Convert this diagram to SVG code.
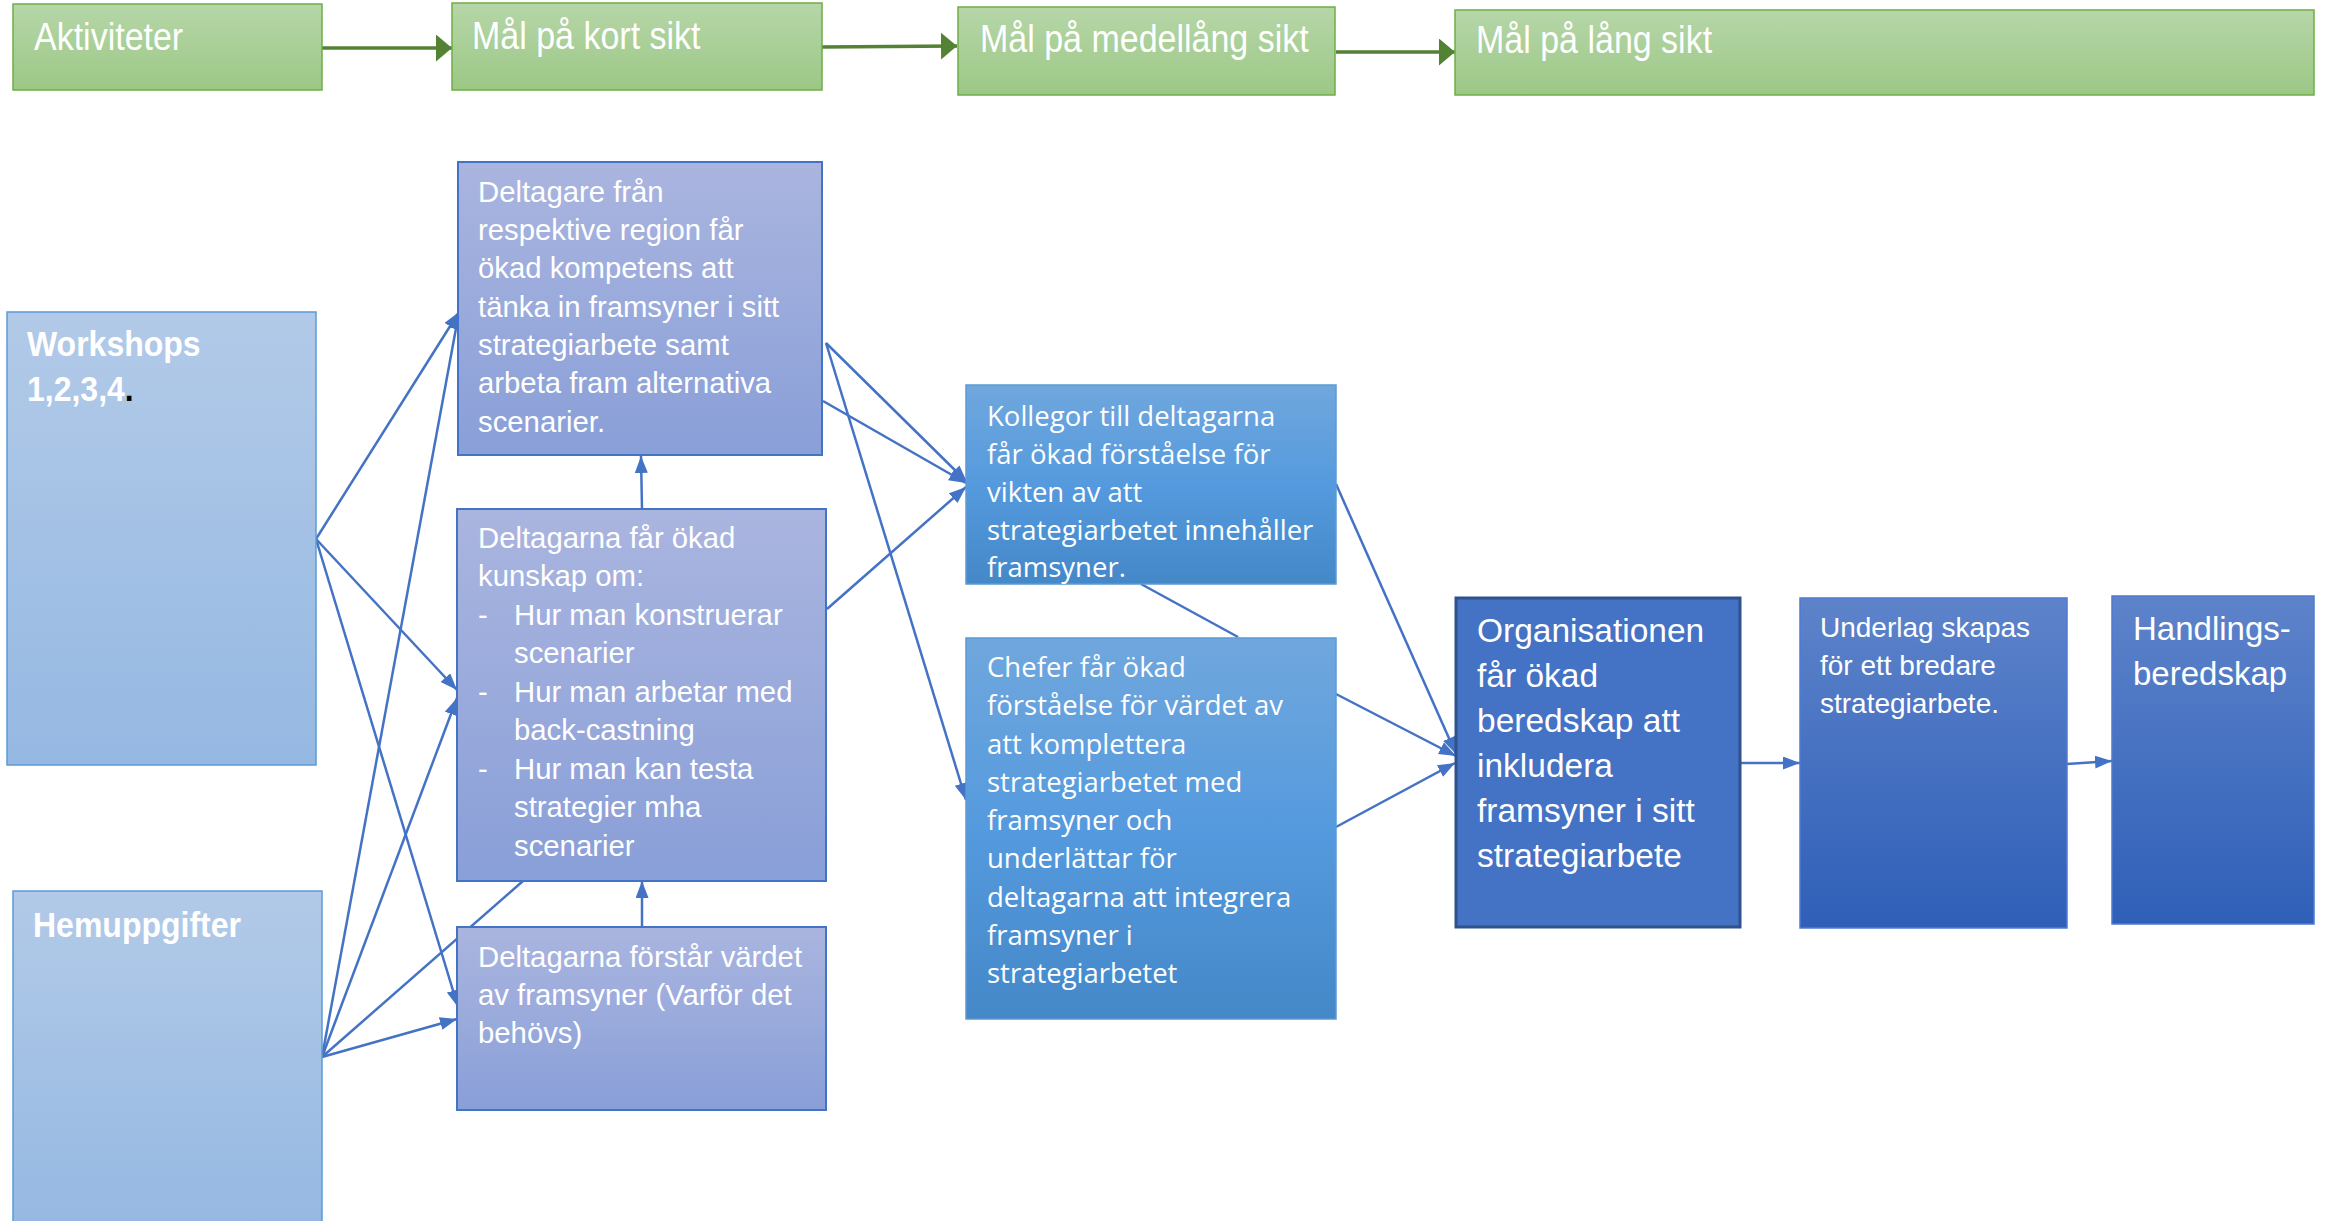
<svg xmlns="http://www.w3.org/2000/svg" width="2326" height="1221" viewBox="0 0 2326 1221">
<style>
.t{font-family:"Liberation Sans",Arial,sans-serif;fill:#ffffff;}
.top{font-size:34px;}
.pb{font-size:29.3px;}
.os{font-family:"Open Sans","Liberation Sans",sans-serif;font-size:27.5px;fill:#ffffff;}
.bold{font-weight:bold;font-size:32px;}
.c{fill:none;stroke:#4472c4;stroke-width:2.5;}
.ca{fill:none;stroke:#4472c4;stroke-width:2.5;marker-end:url(#ab);}
.ga{fill:none;stroke:#548235;stroke-width:3.5;marker-end:url(#ag);}
</style>
<defs>
<linearGradient id="gGreen" x1="0" y1="0" x2="0" y2="1"><stop offset="0" stop-color="#b6d6a8"/><stop offset="1" stop-color="#9cc886"/></linearGradient>
<linearGradient id="gLight" x1="0" y1="0" x2="0" y2="1"><stop offset="0" stop-color="#b2cae8"/><stop offset="1" stop-color="#95b8e2"/></linearGradient>
<linearGradient id="gPurple" x1="0" y1="0" x2="0" y2="1"><stop offset="0" stop-color="#aab5df"/><stop offset="1" stop-color="#899fd8"/></linearGradient>
<linearGradient id="gMid" x1="0" y1="0" x2="0" y2="1"><stop offset="0" stop-color="#70a7dd"/><stop offset="0.5" stop-color="#559ade"/><stop offset="1" stop-color="#4488c8"/></linearGradient>
<linearGradient id="gDark" x1="0" y1="0" x2="0" y2="1"><stop offset="0" stop-color="#5d83ca"/><stop offset="1" stop-color="#2f5fb8"/></linearGradient>
<marker id="ab" markerUnits="userSpaceOnUse" markerWidth="18" markerHeight="14" refX="17" refY="6.5" orient="auto"><path d="M0,0 L17,6.5 L0,13 z" fill="#4472c4"/></marker>
<marker id="ag" markerUnits="userSpaceOnUse" markerWidth="18" markerHeight="28" refX="16" refY="13.5" orient="auto"><path d="M0,0 L16,13.5 L0,27 z" fill="#548235"/></marker>
</defs>
<rect width="2326" height="1221" fill="#ffffff"/>

<g id="connectors">
<line class="ga" x1="322" y1="48" x2="452" y2="48"/>
<line class="ga" x1="822" y1="47" x2="957" y2="46"/>
<line class="ga" x1="1336" y1="52" x2="1455" y2="52"/>
<line class="ca" x1="316" y1="539" x2="459" y2="312"/>
<line class="ca" x1="316" y1="539" x2="457" y2="690"/>
<line class="ca" x1="316" y1="539" x2="458" y2="1007"/>
<line class="ca" x1="322" y1="1057" x2="459" y2="312"/>
<line class="ca" x1="322" y1="1057" x2="457" y2="698"/>
<line class="c" x1="322" y1="1057" x2="523" y2="881"/>
<line class="ca" x1="322" y1="1057" x2="457" y2="1019"/>
<line class="ca" x1="642" y1="927" x2="642" y2="881"/>
<line class="ca" x1="642" y1="509" x2="641" y2="456"/>
<line class="ca" x1="826" y1="343" x2="967" y2="482"/>
<line class="ca" x1="823" y1="401" x2="966" y2="483"/>
<line class="ca" x1="826" y1="343" x2="966" y2="800"/>
<line class="ca" x1="827" y1="609" x2="966" y2="487"/>
<line class="c" x1="1141" y1="584" x2="1238" y2="637"/>
<line class="ca" x1="1336" y1="484" x2="1456" y2="754"/>
<line class="ca" x1="1336" y1="694" x2="1456" y2="756"/>
<line class="ca" x1="1336" y1="827" x2="1455" y2="763"/>
<line class="ca" x1="1741" y1="763" x2="1800" y2="763"/>
<line class="ca" x1="2067" y1="764" x2="2112" y2="761"/>
</g>

<g id="aktiviteter">
<rect x="13" y="4" width="309" height="86" fill="url(#gGreen)" stroke="#70ad47" stroke-width="1.5"/>
<text class="t top" transform="translate(34,50) scale(1,1.12)">Aktiviteter</text>
</g>
<g id="mal-kort">
<rect x="452" y="3" width="370" height="87" fill="url(#gGreen)" stroke="#70ad47" stroke-width="1.5"/>
<text class="t top" transform="translate(472,49) scale(1,1.12)">Mål på kort sikt</text>
</g>
<g id="mal-medel">
<rect x="958" y="7" width="377" height="88" fill="url(#gGreen)" stroke="#70ad47" stroke-width="1.5"/>
<text class="t top" transform="translate(980,52) scale(1,1.12)">Mål på medellång sikt</text>
</g>
<g id="mal-lang">
<rect x="1455" y="10" width="859" height="85" fill="url(#gGreen)" stroke="#70ad47" stroke-width="1.5"/>
<text class="t top" transform="translate(1476,53) scale(1,1.12)">Mål på lång sikt</text>
</g>

<g id="workshops">
<rect x="7" y="312" width="309" height="453" fill="url(#gLight)" stroke="#5b9bd5" stroke-width="1.5"/>
<text class="t bold" transform="translate(27,356) scale(1,1.08)">Workshops</text>
<text class="t bold" transform="translate(27,401) scale(1,1.08)">1,2,3,4<tspan fill="#000000">.</tspan></text>
</g>
<g id="hemuppgifter">
<rect x="13" y="891" width="309" height="340" fill="url(#gLight)" stroke="#5b9bd5" stroke-width="1.5"/>
<text class="t bold" transform="translate(33,937) scale(1,1.08)">Hemuppgifter</text>
</g>

<g id="deltagare-fran">
<rect x="458" y="162" width="364" height="293" fill="url(#gPurple)" stroke="#4472c4" stroke-width="2"/>
<text class="t pb" x="478" y="202">Deltagare från</text>
<text class="t pb" x="478" y="240">respektive region får</text>
<text class="t pb" x="478" y="278">ökad kompetens att</text>
<text class="t pb" x="478" y="317">tänka in framsyner i sitt</text>
<text class="t pb" x="478" y="355">strategiarbete samt</text>
<text class="t pb" x="478" y="393">arbeta fram alternativa</text>
<text class="t pb" x="478" y="432">scenarier.</text>
</g>
<g id="deltagarna-kunskap">
<rect x="457" y="509" width="369" height="372" fill="url(#gPurple)" stroke="#4472c4" stroke-width="2"/>
<text class="t pb" x="478" y="548">Deltagarna får ökad</text>
<text class="t pb" x="478" y="586">kunskap om:</text>
<text class="t pb" x="478" y="625">-</text>
<text class="t pb" x="514" y="625">Hur man konstruerar</text>
<text class="t pb" x="514" y="663">scenarier</text>
<text class="t pb" x="478" y="702">-</text>
<text class="t pb" x="514" y="702">Hur man arbetar med</text>
<text class="t pb" x="514" y="740">back-castning</text>
<text class="t pb" x="478" y="779">-</text>
<text class="t pb" x="514" y="779">Hur man kan testa</text>
<text class="t pb" x="514" y="817">strategier mha</text>
<text class="t pb" x="514" y="856">scenarier</text>
</g>
<g id="deltagarna-forstar">
<rect x="457" y="927" width="369" height="183" fill="url(#gPurple)" stroke="#4472c4" stroke-width="2"/>
<text class="t pb" x="478" y="967">Deltagarna förstår värdet</text>
<text class="t pb" x="478" y="1005">av framsyner (Varför det</text>
<text class="t pb" x="478" y="1043">behövs)</text>
</g>

<g id="kollegor">
<rect x="966" y="385" width="370" height="199" fill="url(#gMid)" stroke="#5b9bd5" stroke-width="1.5"/>
<text class="os" x="987" y="426">Kollegor till deltagarna</text>
<text class="os" x="987" y="464">får ökad förståelse för</text>
<text class="os" x="987" y="502">vikten av att</text>
<text class="os" x="987" y="540">strategiarbetet innehåller</text>
<text class="os" x="987" y="577">framsyner.</text>
</g>
<g id="chefer">
<rect x="966" y="638" width="370" height="381" fill="url(#gMid)" stroke="#5b9bd5" stroke-width="1.5"/>
<text class="os" x="987" y="677">Chefer får ökad</text>
<text class="os" x="987" y="715">förståelse för värdet av</text>
<text class="os" x="987" y="754">att komplettera</text>
<text class="os" x="987" y="792">strategiarbetet med</text>
<text class="os" x="987" y="830">framsyner och</text>
<text class="os" x="987" y="868">underlättar för</text>
<text class="os" x="987" y="907">deltagarna att integrera</text>
<text class="os" x="987" y="945">framsyner i</text>
<text class="os" x="987" y="983">strategiarbetet</text>
</g>

<g id="organisationen">
<rect x="1456" y="598" width="284" height="329" fill="#4472c4" stroke="#2f528f" stroke-width="3"/>
<text class="t" font-size="33.5" x="1477" y="642">Organisationen</text>
<text class="t" font-size="33.5" x="1477" y="687">får ökad</text>
<text class="t" font-size="33.5" x="1477" y="732">beredskap att</text>
<text class="t" font-size="33.5" x="1477" y="777">inkludera</text>
<text class="t" font-size="33.5" x="1477" y="822">framsyner i sitt</text>
<text class="t" font-size="33.5" x="1477" y="867">strategiarbete</text>
</g>
<g id="underlag">
<rect x="1800" y="598" width="267" height="330" fill="url(#gDark)" stroke="#4f7bd0" stroke-width="1.5"/>
<text class="t" font-size="28" x="1820" y="637">Underlag skapas</text>
<text class="t" font-size="28" x="1820" y="675">för ett bredare</text>
<text class="t" font-size="28" x="1820" y="713">strategiarbete.</text>
</g>
<g id="handlingsberedskap">
<rect x="2112" y="596" width="202" height="328" fill="url(#gDark)" stroke="#4f7bd0" stroke-width="1.5"/>
<text class="t" font-size="33" x="2133" y="640">Handlings-</text>
<text class="t" font-size="33" x="2133" y="685">beredskap</text>
</g>
</svg>
